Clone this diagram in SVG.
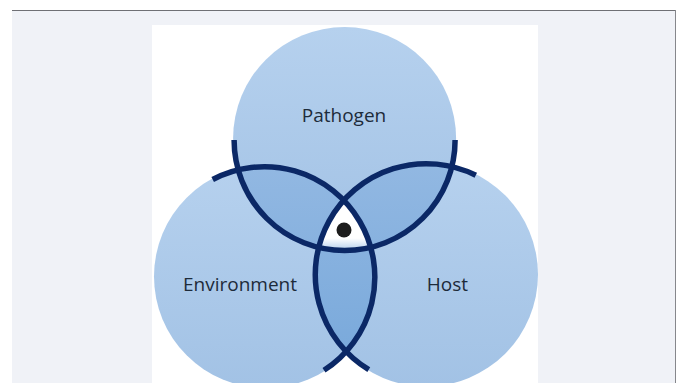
<svg xmlns="http://www.w3.org/2000/svg" width="681" height="383" viewBox="0 0 681 383">
  <style>
    .lbl { font-family: "Open Sans", "Liberation Sans", sans-serif; font-size: 19px; fill: #1d2b3a; text-anchor: middle; }
    .edge { fill: none; stroke: #0b2866; stroke-width: 5.5; stroke-linecap: butt; }
    .base { fill: url(#gLight); }
    .pair { fill: url(#gDark); }
  </style>
  <defs>
    <linearGradient id="gLight" x1="0" y1="0" x2="0" y2="1">
      <stop offset="0" stop-color="#b6d1ee"/>
      <stop offset="1" stop-color="#a2c2e5"/>
    </linearGradient>
    <linearGradient id="gDark" x1="0" y1="0" x2="0" y2="1">
      <stop offset="0" stop-color="#92b8e2"/>
      <stop offset="1" stop-color="#76a7da"/>
    </linearGradient>
    <linearGradient id="gWhite" gradientUnits="userSpaceOnUse" x1="0" y1="200" x2="0" y2="249">
      <stop offset="0" stop-color="#ffffff"/>
      <stop offset="0.78" stop-color="#ffffff"/>
      <stop offset="1" stop-color="#bcd4ee"/>
    </linearGradient>
    <clipPath id="cT"><circle cx="344.6" cy="138.5" r="111"/></clipPath>
    <clipPath id="cL"><circle cx="265.5" cy="276.5" r="111"/></clipPath>
    <clipPath id="cR"><circle cx="426" cy="274.5" r="111.5"/></clipPath>
  </defs>

  <!-- page background -->
  <rect x="0" y="0" width="681" height="383" fill="#ffffff"/>
  <rect x="12" y="10" width="664" height="373" fill="#f0f2f7"/>
  <line x1="12" y1="10.5" x2="676" y2="10.5" stroke="#6f7075" stroke-width="1"/>
  <line x1="675.5" y1="10" x2="675.5" y2="383" stroke="#86878c" stroke-width="1"/>
  <rect x="152" y="25" width="386" height="358" fill="#ffffff"/>

  <!-- nodes -->
  <g id="pathogen">
    <circle class="base" cx="344.6" cy="138.5" r="111.5"/>
  </g>
  <g id="environment">
    <circle class="base" cx="265.5" cy="276.5" r="111.5"/>
  </g>
  <g id="host">
    <circle class="base" cx="426" cy="274.5" r="112"/>
  </g>

  <g id="overlaps">
    <g clip-path="url(#cT)"><circle class="pair" cx="265.5" cy="276.5" r="111"/></g>
    <g clip-path="url(#cT)"><circle class="pair" cx="426" cy="274.5" r="111.5"/></g>
    <g clip-path="url(#cL)"><circle class="pair" cx="426" cy="274.5" r="111.5"/></g>
    <g clip-path="url(#cT)"><g clip-path="url(#cL)"><circle cx="426" cy="274.5" r="111.5" fill="url(#gWhite)"/></g></g>
  </g>

  <!-- connectors (outline arcs) -->
  <g id="connectors">
    <path class="edge" d="M234.1,140 A110.5,110.5 0 0 0 455.1,140"/>
    <path class="edge" d="M212.7,179.5 A110.5,110.5 0 0 1 324,370.2"/>
    <path class="edge" d="M475.8,175.3 A111,111 0 0 0 368.8,369.6"/>
  </g>

  <g id="center-dot">
    <circle cx="344" cy="230" r="7.5" fill="#1c1c1c"/>
  </g>

  <g id="labels">
    <text class="lbl" x="344" y="121.5">Pathogen</text>
    <text class="lbl" x="240" y="290.5">Environment</text>
    <text class="lbl" x="447.5" y="290.5">Host</text>
  </g>
</svg>
